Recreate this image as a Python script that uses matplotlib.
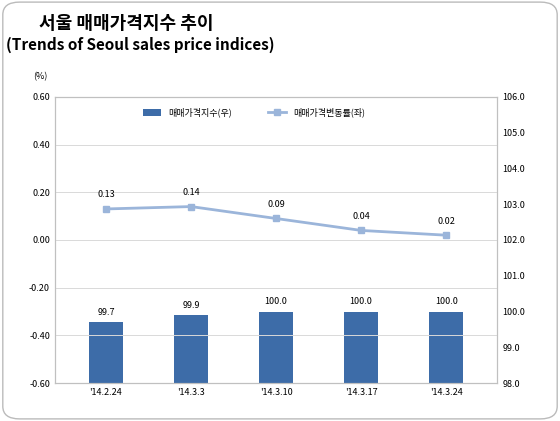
import matplotlib
matplotlib.use("Agg")
import matplotlib.pyplot as plt
from matplotlib.patches import FancyBboxPatch

plt.rcParams['font.family'] = ['Noto Sans CJK KR', 'DejaVu Sans']

dates = ["'14.2.24", "'14.3.3", "'14.3.10", "'14.3.17", "'14.3.24"]
index_vals = [99.7, 99.9, 100.0, 100.0, 100.0]
change_vals = [0.13, 0.14, 0.09, 0.04, 0.02]
index_labels = ["99.7", "99.9", "100.0", "100.0", "100.0"]

fig = plt.figure(figsize=(5.6, 4.21), dpi=100)
fig.patches.append(FancyBboxPatch((0.005, 0.005), 0.99, 0.99, boxstyle="round,pad=0,rounding_size=0.03",
                                  transform=fig.transFigure, fc='white', ec='#bbbbbb', lw=1, zorder=-10))
fig.text(0.07, 0.945, "서울 매매가격지수 추이", fontsize=13, fontweight='bold', ha='left', va='center')
fig.text(0.01, 0.893, "(Trends of Seoul sales price indices)", fontsize=11, fontweight='bold', ha='left', va='center')

ax = fig.add_axes([0.098, 0.09, 0.79, 0.68])
ax2 = ax.twinx()
x = list(range(len(dates)))

ax2.bar(x, index_vals, width=0.4, color='#3d6ca8', zorder=2, label='매매가격지수(우)')
ax2.set_ylim(98, 106)
ax2.set_yticks([98 + i for i in range(9)])
ax2.set_yticklabels([f"{98 + i:.1f}" for i in range(9)], fontsize=6.5)
for xi, v, l in zip(x, index_vals, index_labels):
    ax2.text(xi, v + 0.15, l, ha='center', va='bottom', fontsize=6.5)

ax.set_zorder(ax2.get_zorder() + 1)
ax.patch.set_visible(False)
ax.plot(x, change_vals, color='#9bb5da', lw=2, marker='s', ms=5, label='매매가격변동률(좌)')
for xi, v in zip(x, change_vals):
    ax.text(xi, v + 0.04, f"{v:.2f}", ha='center', va='bottom', fontsize=6.5)
ax.set_ylim(-0.6, 0.6)
ax.set_yticks([-0.6 + 0.2 * i for i in range(7)])
ax.set_yticklabels([f"{-0.6 + 0.2 * i:.2f}" for i in range(7)], fontsize=6.5)
ax.set_xlim(-0.6, 4.6)
ax.set_xticks(x)
ax.set_xticklabels(dates, fontsize=6.5)
for yv in [-0.6 + 0.2 * i for i in range(7)]:
    ax.axhline(yv, color='#d9d9d9', lw=0.7, zorder=0)
for a in (ax, ax2):
    for s in a.spines.values():
        s.set_color('#c0c0c0')
    a.tick_params(length=0)
ax.text(-0.05, 1.06, "(%)", transform=ax.transAxes, fontsize=6.5)

h1, l1 = ax2.get_legend_handles_labels()
h2, l2 = ax.get_legend_handles_labels()
ax.legend(h1 + h2, l1 + l2, loc='upper center', ncol=2, frameon=False, fontsize=6.5,
          bbox_to_anchor=(0.45, 0.99), columnspacing=4)

fig.savefig("out.png", dpi=100)
